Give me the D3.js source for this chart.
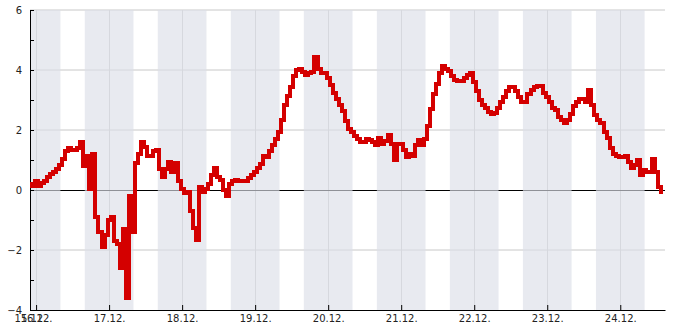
<!DOCTYPE html>
<html>
<head>
<meta charset="utf-8">
<script src="https://cdn.jsdelivr.net/npm/d3@7"></script>
<style>
  html, body { margin: 0; padding: 0; background: #fff; }
  #chart { width: 685px; height: 330px; }
  text { font-family: "DejaVu Sans", sans-serif; font-size: 10px; fill: #222; }
</style>
</head>
<body>
<div id="chart"></div>
<script>
// start of the series: 15.12. 22:00, one value per hour
const startTime = new Date(2023, 11, 15, 22, 0);
const endHours = 208.7;

const hourlyValues = [
  0.2, 0.15, 0.3, 0.15, 0.25, 0.3, 0.45, 0.55, 0.6, 0.7,
  0.85, 1.05, 1.3, 1.4, 1.35, 1.35, 1.4, 1.6, 0.8, 1.15,
  0.05, 1.2, -0.9, -1.4, -1.9, -1.5, -1.0, -0.9, -1.7, -1.8,
  -2.6, -1.3, -3.6, -0.2, -1.4, 0.9, 1.2, 1.6, 1.45, 1.15,
  1.15, 1.3, 1.35, 0.7, 0.45, 0.7, 0.95, 0.6, 0.9, 0.3,
  0.05, -0.1, -0.05, -0.7, -1.25, -1.65, 0.1, -0.05, 0.05, 0.2,
  0.5, 0.75, 0.45, 0.35, 0.0, -0.2, 0.2, 0.3, 0.35, 0.3,
  0.3, 0.3, 0.4, 0.5, 0.6, 0.75, 0.87, 1.15, 1.1, 1.3,
  1.5, 1.7, 1.95, 2.35, 2.85, 3.15, 3.45, 3.8, 4.0, 4.05,
  3.95, 3.85, 3.9, 3.95, 4.45, 4.05, 3.9, 3.9, 3.75, 3.5,
  3.25, 3.05, 2.85, 2.65, 2.3, 2.05, 1.95, 1.8, 1.7, 1.6,
  1.6, 1.7, 1.68, 1.6, 1.5, 1.72, 1.55, 1.65, 1.85, 1.55,
  1.0, 1.55, 1.55, 1.35, 1.1, 1.2, 1.15, 1.5, 1.67, 1.5,
  1.7, 2.15, 2.7, 3.2, 3.55, 3.9, 4.12, 4.05, 3.97, 3.8,
  3.68, 3.62, 3.65, 3.75, 3.85, 3.9, 3.6, 3.3, 3.0, 2.83,
  2.72, 2.6, 2.55, 2.57, 2.75, 2.95, 3.1, 3.3, 3.45, 3.45,
  3.3, 3.1, 2.94, 2.94, 3.2, 3.35, 3.42, 3.48, 3.47, 3.25,
  3.1, 2.95, 2.72, 2.67, 2.44, 2.33, 2.25, 2.35, 2.55, 2.8,
  2.95, 3.03, 3.03, 2.95, 3.33, 2.85, 2.5, 2.35, 2.25, 1.95,
  1.72, 1.4, 1.2, 1.12, 1.1, 1.1, 1.15, 0.95, 0.72, 0.85,
  1.0, 0.5, 0.67, 0.6, 0.6, 1.05, 0.6, 0.1, -0.07
];

const dayTicks = ['2023-12-16', '2023-12-17', '2023-12-18', '2023-12-19', '2023-12-20',
  '2023-12-21', '2023-12-22', '2023-12-23', '2023-12-24'];
const yMajorTicks = [-4, -2, 0, 2, 4, 6];
const yMinorTicks = [-3, -1, 1, 3, 5];
// shaded night hours
const nightStartHour = 16;
const nightEndHour = 8;

const width = 685, height = 330;
const margin = { top: 10, right: 20, bottom: 20, left: 30 };
const innerW = width - margin.left - margin.right;
const innerH = height - margin.top - margin.bottom;

const hour = 3600 * 1000;
const endTime = new Date(+startTime + endHours * hour);
const data = hourlyValues.map((v, i) => ({ t: new Date(+startTime + i * hour), v }));
const ticks = dayTicks.map(s => { const [y, m, d] = s.split('-').map(Number); return new Date(y, m - 1, d); });

const x = d3.scaleTime().domain([startTime, endTime]).range([0, innerW]);
const y = d3.scaleLinear().domain([-4, 6]).range([innerH, 0]);

const svg = d3.select('#chart').append('svg')
  .attr('width', width)
  .attr('height', height);

const mg = svg.append('g').attr('transform', `translate(${margin.left},${margin.top})`);

// grid
mg.append('g')
  .selectAll('line.h')
  .data(yMajorTicks.filter(d => d !== 0 && d !== -4))
  .join('line')
  .attr('x1', 0).attr('x2', innerW)
  .attr('y1', d => y(d)).attr('y2', d => y(d))
  .attr('stroke', '#c8c8c8');

mg.append('g')
  .selectAll('line.v')
  .data(ticks)
  .join('line')
  .attr('x1', d => Math.round(x(d)) + 0.5).attr('x2', d => Math.round(x(d)) + 0.5)
  .attr('y1', 0).attr('y2', innerH)
  .attr('stroke', '#cccccc');

mg.append('line')
  .attr('x1', 0).attr('x2', innerW)
  .attr('y1', y(0) + 0.5).attr('y2', y(0) + 0.5)
  .attr('stroke', '#000');

// night bands
const nights = [];
const firstDay = new Date(startTime.getFullYear(), startTime.getMonth(), startTime.getDate() - 1);
for (let d = firstDay; d < endTime; d = new Date(d.getFullYear(), d.getMonth(), d.getDate() + 1)) {
  const a = new Date(d.getFullYear(), d.getMonth(), d.getDate(), nightStartHour);
  const b = new Date(d.getFullYear(), d.getMonth(), d.getDate() + 1, nightEndHour);
  if (b > startTime && a < endTime) nights.push([a < startTime ? startTime : a, b > endTime ? endTime : b]);
}
mg.append('g')
  .selectAll('rect')
  .data(nights)
  .join('rect')
  .attr('x', d => x(d[0]))
  .attr('width', d => x(d[1]) - x(d[0]))
  .attr('y', 0)
  .attr('height', innerH)
  .attr('fill', 'rgb(220,222,232)')
  .attr('fill-opacity', 0.65);

// axes
const yAxis = mg.append('g')
  .call(d3.axisLeft(y).tickValues(yMajorTicks).tickSize(0).tickPadding(8));
yAxis.select('.domain').attr('stroke', '#000');
yAxis.selectAll('text').style('font-size', '10px').attr('fill', '#222');

mg.append('g')
  .selectAll('line')
  .data(yMajorTicks.concat(yMinorTicks))
  .join('line')
  .attr('x1', 0).attr('x2', 4)
  .attr('y1', d => y(d) + 0.5).attr('y2', d => y(d) + 0.5)
  .attr('stroke', '#000');

const xAxis = mg.append('g')
  .attr('transform', `translate(0,${innerH})`)
  .call(d3.axisBottom(x)
    .tickValues([startTime].concat(ticks))
    .tickFormat(d3.timeFormat('%d.%m.'))
    .tickSizeInner(-5)
    .tickSizeOuter(0)
    .tickPadding(5));
xAxis.select('.domain').attr('stroke', '#000');
xAxis.selectAll('line').attr('stroke', '#000');
xAxis.selectAll('text').style('font-size', '10px').attr('fill', '#222');

// series
mg.append('path')
  .datum(data)
  .attr('fill', 'none')
  .attr('stroke', '#d40000')
  .attr('stroke-width', 4)
  .attr('stroke-linejoin', 'miter')
  .attr('shape-rendering', 'crispEdges')
  .attr('d', d3.line().curve(d3.curveStep).x(d => x(d.t)).y(d => y(d.v)));
</script>
</body>
</html>
